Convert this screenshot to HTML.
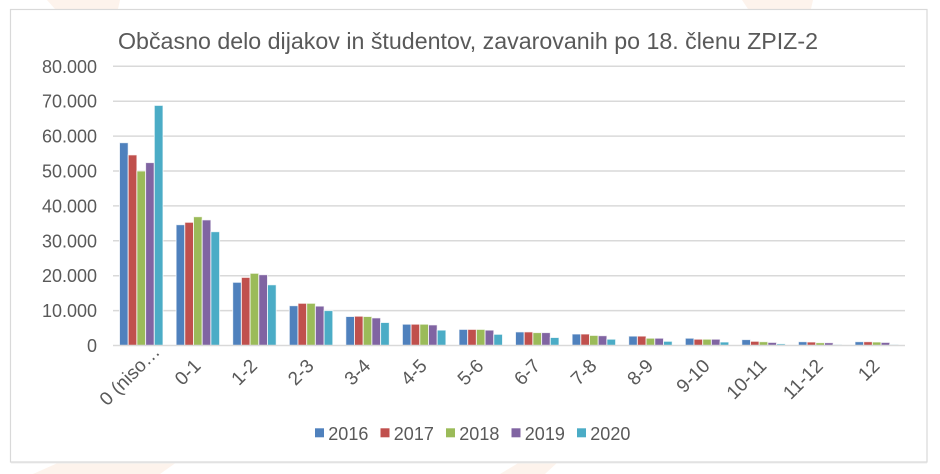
<!DOCTYPE html>
<html>
<head>
<meta charset="utf-8">
<style>
html,body{margin:0;padding:0;background:#fff;}
svg{display:block;}
text{font-family:"Liberation Sans",Arial,sans-serif;fill:#595959;}
</style>
</head>
<body>
<svg width="940" height="474" viewBox="0 0 940 474" xmlns="http://www.w3.org/2000/svg">
<rect x="0" y="0" width="940" height="474" fill="#ffffff"/>
<!-- faint watermark shapes -->
<polygon points="47,0 120,0 118,9 55,9" fill="#fdf3ec"/>
<polygon points="742,0 813,0 811,9 748,9" fill="#fdf3ec"/>
<polygon points="60,462 177,462 160,474 33,474" fill="#fdf3ec"/>
<polygon points="520,462 558,462 545,474 500,474" fill="#fdf3ec"/>
<!-- frame -->
<rect x="10.5" y="9.5" width="916.5" height="452.5" fill="#ffffff" stroke="#d9d9d9" stroke-width="1.2"/>
<line x1="11" y1="463" x2="927" y2="463" stroke="#ececec" stroke-width="1"/>

<!-- title -->
<text x="118" y="49" font-size="23" textLength="700" lengthAdjust="spacingAndGlyphs">Občasno delo dijakov in študentov, zavarovanih po 18. členu ZPIZ-2</text>

<!-- gridlines -->
<g stroke="#d9d9d9" stroke-width="1.5">
<line x1="113" y1="66.3" x2="905" y2="66.3"/>
<line x1="113" y1="101.2" x2="905" y2="101.2"/>
<line x1="113" y1="136.1" x2="905" y2="136.1"/>
<line x1="113" y1="171.0" x2="905" y2="171.0"/>
<line x1="113" y1="205.9" x2="905" y2="205.9"/>
<line x1="113" y1="240.8" x2="905" y2="240.8"/>
<line x1="113" y1="275.7" x2="905" y2="275.7"/>
<line x1="113" y1="310.6" x2="905" y2="310.6"/>
</g>

<!-- y labels -->
<g font-size="18" text-anchor="end">
<text x="97" y="72.8">80.000</text>
<text x="97" y="107.7">70.000</text>
<text x="97" y="142.6">60.000</text>
<text x="97" y="177.5">50.000</text>
<text x="97" y="212.4">40.000</text>
<text x="97" y="247.3">30.000</text>
<text x="97" y="282.2">20.000</text>
<text x="97" y="317.1">10.000</text>
<text x="97" y="352.0">0</text>
</g>

<!-- bars -->
<g stroke="#ffffff" stroke-width="1" stroke-opacity="0.75">
<!-- 2016 -->
<g fill="#4F81BD">
<rect x="119.5" y="142.7" width="8.7" height="202.8"/>
<rect x="176.1" y="224.7" width="8.7" height="120.8"/>
<rect x="232.7" y="282.3" width="8.7" height="63.2"/>
<rect x="289.3" y="305.7" width="8.7" height="39.8"/>
<rect x="345.8" y="316.5" width="8.7" height="29.0"/>
<rect x="402.4" y="324.2" width="8.7" height="21.3"/>
<rect x="459.0" y="329.4" width="8.7" height="16.1"/>
<rect x="515.5" y="331.9" width="8.7" height="13.6"/>
<rect x="572.1" y="334.0" width="8.7" height="11.5"/>
<rect x="628.7" y="336.1" width="8.7" height="9.4"/>
<rect x="685.3" y="338.2" width="8.7" height="7.3"/>
<rect x="741.8" y="339.6" width="8.7" height="5.9"/>
<rect x="798.4" y="341.7" width="8.7" height="3.8"/>
<rect x="855.0" y="341.7" width="8.7" height="3.8"/>
</g>
<!-- 2017 -->
<g fill="#C0504D">
<rect x="128.2" y="154.9" width="8.7" height="190.6"/>
<rect x="184.8" y="222.3" width="8.7" height="123.2"/>
<rect x="241.4" y="277.4" width="8.7" height="68.1"/>
<rect x="298.0" y="303.3" width="8.7" height="42.2"/>
<rect x="354.5" y="316.2" width="8.7" height="29.3"/>
<rect x="411.1" y="324.2" width="8.7" height="21.3"/>
<rect x="467.7" y="329.4" width="8.7" height="16.1"/>
<rect x="524.2" y="331.9" width="8.7" height="13.6"/>
<rect x="580.8" y="334.0" width="8.7" height="11.5"/>
<rect x="637.4" y="336.1" width="8.7" height="9.4"/>
<rect x="694.0" y="339.2" width="8.7" height="6.3"/>
<rect x="750.5" y="341.3" width="8.7" height="4.2"/>
<rect x="807.1" y="342.0" width="8.7" height="3.5"/>
<rect x="863.7" y="341.7" width="8.7" height="3.8"/>
</g>
<!-- 2018 -->
<g fill="#9BBB59">
<rect x="136.9" y="171.0" width="8.7" height="174.5"/>
<rect x="193.5" y="216.7" width="8.7" height="128.8"/>
<rect x="250.1" y="273.3" width="8.7" height="72.2"/>
<rect x="306.7" y="303.3" width="8.7" height="42.2"/>
<rect x="363.2" y="316.5" width="8.7" height="29.0"/>
<rect x="419.8" y="324.2" width="8.7" height="21.3"/>
<rect x="476.4" y="329.4" width="8.7" height="16.1"/>
<rect x="532.9" y="332.6" width="8.7" height="12.9"/>
<rect x="589.5" y="335.4" width="8.7" height="10.1"/>
<rect x="646.1" y="338.2" width="8.7" height="7.3"/>
<rect x="702.7" y="339.2" width="8.7" height="6.3"/>
<rect x="759.2" y="341.7" width="8.7" height="3.8"/>
<rect x="815.8" y="342.7" width="8.7" height="2.8"/>
<rect x="872.4" y="342.0" width="8.7" height="3.5"/>
</g>
<!-- 2019 -->
<g fill="#8064A2">
<rect x="145.6" y="162.6" width="8.7" height="182.9"/>
<rect x="202.2" y="219.9" width="8.7" height="125.6"/>
<rect x="258.8" y="274.7" width="8.7" height="70.8"/>
<rect x="315.4" y="306.1" width="8.7" height="39.4"/>
<rect x="371.9" y="317.9" width="8.7" height="27.6"/>
<rect x="428.5" y="324.9" width="8.7" height="20.6"/>
<rect x="485.1" y="330.1" width="8.7" height="15.4"/>
<rect x="541.6" y="332.6" width="8.7" height="12.9"/>
<rect x="598.2" y="335.7" width="8.7" height="9.8"/>
<rect x="654.8" y="338.2" width="8.7" height="7.3"/>
<rect x="711.4" y="339.2" width="8.7" height="6.3"/>
<rect x="767.9" y="342.4" width="8.7" height="3.1"/>
<rect x="824.5" y="342.7" width="8.7" height="2.8"/>
<rect x="881.1" y="342.4" width="8.7" height="3.1"/>
</g>
<!-- 2020 -->
<g fill="#4BACC6">
<rect x="154.3" y="105.4" width="8.7" height="240.1"/>
<rect x="210.9" y="231.7" width="8.7" height="113.8"/>
<rect x="267.5" y="284.8" width="8.7" height="60.7"/>
<rect x="324.1" y="310.6" width="8.7" height="34.9"/>
<rect x="380.6" y="322.5" width="8.7" height="23.0"/>
<rect x="437.2" y="330.1" width="8.7" height="15.4"/>
<rect x="493.8" y="334.3" width="8.7" height="11.2"/>
<rect x="550.3" y="337.5" width="8.7" height="8.0"/>
<rect x="606.9" y="339.2" width="8.7" height="6.3"/>
<rect x="663.5" y="341.3" width="8.7" height="4.2"/>
<rect x="720.1" y="342.0" width="8.7" height="3.5"/>
<rect x="776.6" y="343.8" width="8.7" height="1.7"/>
<rect x="833.2" y="344.5" width="8.7" height="1.0"/>
<rect x="889.8" y="344.5" width="8.7" height="1.0"/>
</g>
</g>

<!-- x axis -->
<line x1="113" y1="345.5" x2="905" y2="345.5" stroke="#d9d9d9" stroke-width="1.5"/>

<!-- x labels -->
<g font-size="19" text-anchor="end">
<text transform="translate(161,353) rotate(-45)">0 (niso…</text>
<text transform="translate(201.9,367) rotate(-45)">0-1</text>
<text transform="translate(258.4,367) rotate(-45)">1-2</text>
<text transform="translate(315.0,367) rotate(-45)">2-3</text>
<text transform="translate(371.6,367) rotate(-45)">3-4</text>
<text transform="translate(428.1,367) rotate(-45)">4-5</text>
<text transform="translate(484.7,367) rotate(-45)">5-6</text>
<text transform="translate(541.3,367) rotate(-45)">6-7</text>
<text transform="translate(597.9,367) rotate(-45)">7-8</text>
<text transform="translate(654.4,367) rotate(-45)">8-9</text>
<text transform="translate(711.0,367) rotate(-45)">9-10</text>
<text transform="translate(767.6,367) rotate(-45)">10-11</text>
<text transform="translate(824.1,367) rotate(-45)">11-12</text>
<text transform="translate(880.7,367) rotate(-45)">12</text>
</g>

<!-- legend -->
<rect x="315" y="428.3" width="9" height="9" fill="#4F81BD"/>
<text x="328.3" y="440" font-size="18">2016</text>
<rect x="380.5" y="428.3" width="9" height="9" fill="#C0504D"/>
<text x="393.8" y="440" font-size="18">2017</text>
<rect x="446" y="428.3" width="9" height="9" fill="#9BBB59"/>
<text x="459.3" y="440" font-size="18">2018</text>
<rect x="511.5" y="428.3" width="9" height="9" fill="#8064A2"/>
<text x="524.8" y="440" font-size="18">2019</text>
<rect x="577" y="428.3" width="9" height="9" fill="#4BACC6"/>
<text x="590.3" y="440" font-size="18">2020</text>
</svg>
</body>
</html>
